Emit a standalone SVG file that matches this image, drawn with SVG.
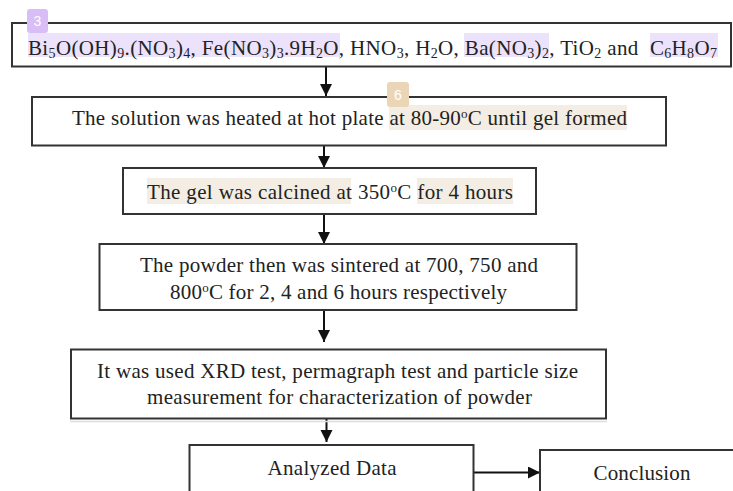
<svg xmlns="http://www.w3.org/2000/svg" width="733" height="491" viewBox="0 0 733 491">
<style>
.box{fill:none;stroke:#333;stroke-width:2}
.t{font-family:"Liberation Serif","Times New Roman",serif;font-size:21px;fill:#222}
.sub{font-size:14px}
.sup{font-size:13px}
.conn{stroke:#111;stroke-width:2;fill:none;marker-end:url(#ah)}
.hlp{fill:#ede2fb}
.hlb{fill:#f4ede3}
.badge{font-family:"Liberation Sans",Arial,sans-serif;font-size:14px;fill:#fff;text-anchor:middle}
</style>
<defs>
<marker id="ah" markerUnits="userSpaceOnUse" markerWidth="14" markerHeight="14" refX="12" refY="6" orient="auto">
<path d="M0,0 L12,6 L0,12 Z" fill="#111"/>
</marker>
</defs>
<rect width="733" height="491" fill="#fff"/>

<g id="annotations">
<rect class="hlp" x="28" y="33" width="312" height="24"/>
<rect class="hlp" x="464" y="33" width="85" height="24"/>
<rect class="hlp" x="650" y="33" width="68" height="24"/>
<rect class="hlb" x="389" y="105" width="238" height="25"/>
<rect class="hlb" x="147" y="178" width="204" height="26"/>
<rect class="hlb" x="417" y="178" width="96" height="26"/>
</g>

<g id="connectors">
<line class="conn" x1="326" y1="67" x2="326" y2="96"/>
<line class="conn" x1="324" y1="146" x2="324" y2="168"/>
<line class="conn" x1="324" y1="214" x2="324" y2="244"/>
<line class="conn" x1="324" y1="310" x2="324" y2="342"/>
<line class="conn" x1="326.5" y1="419" x2="326.5" y2="442"/>
<line class="conn" x1="473" y1="472.5" x2="540" y2="472.5"/>
</g>

<g id="n1">
<rect class="box" x="12" y="23" width="719" height="43.5"/>
<text class="t" x="28" y="55" textLength="689" lengthAdjust="spacing">Bi<tspan class="sub" baseline-shift="-3">5</tspan>O(OH)<tspan class="sub" baseline-shift="-3">9</tspan>.(NO<tspan class="sub" baseline-shift="-3">3</tspan>)<tspan class="sub" baseline-shift="-3">4</tspan>, Fe(NO<tspan class="sub" baseline-shift="-3">3</tspan>)<tspan class="sub" baseline-shift="-3">3</tspan>.9H<tspan class="sub" baseline-shift="-3">2</tspan>O, HNO<tspan class="sub" baseline-shift="-3">3</tspan>, H<tspan class="sub" baseline-shift="-3">2</tspan>O, Ba(NO<tspan class="sub" baseline-shift="-3">3</tspan>)<tspan class="sub" baseline-shift="-3">2</tspan>, TiO<tspan class="sub" baseline-shift="-3">2</tspan> and&#160; C<tspan class="sub" baseline-shift="-3">6</tspan>H<tspan class="sub" baseline-shift="-3">8</tspan>O<tspan class="sub" baseline-shift="-3">7</tspan></text>
</g>

<g id="n2">
<rect class="box" x="32" y="97" width="634" height="48.5"/>
<text class="t" x="72" y="125" textLength="555" lengthAdjust="spacing">The solution was heated at hot plate at 80-90<tspan class="sup" baseline-shift="7">o</tspan>C until gel formed</text>
</g>

<g id="n3">
<rect class="box" x="123" y="168" width="413" height="46"/>
<text class="t" x="147" y="199" textLength="366" lengthAdjust="spacing">The gel was calcined at 350<tspan class="sup" baseline-shift="7">o</tspan>C for 4 hours</text>
</g>

<g id="n4">
<rect class="box" x="99.5" y="244" width="477" height="66"/>
<text class="t" x="140" y="272" textLength="398" lengthAdjust="spacing">The powder then was sintered at 700, 750 and</text>
<text class="t" x="170" y="299" textLength="337" lengthAdjust="spacing">800<tspan class="sup" baseline-shift="7">o</tspan>C for 2, 4 and 6 hours respectively</text>
</g>

<g id="n5">
<line x1="70" y1="421.5" x2="607" y2="421.5" stroke="#ddd" stroke-width="1.5"/>
<rect class="box" x="71" y="349.5" width="535" height="69"/>
<text class="t" x="97" y="378" textLength="481" lengthAdjust="spacing">It was used XRD test, permagraph test and particle size</text>
<text class="t" x="147" y="403.5" textLength="385" lengthAdjust="spacing">measurement for characterization of powder</text>
</g>

<g id="n6">
<rect class="box" x="189.5" y="445" width="284" height="60"/>
<text class="t" x="267.5" y="475" textLength="129" lengthAdjust="spacing">Analyzed Data</text>
</g>

<g id="n7">
<rect class="box" x="540" y="450" width="210" height="60"/>
<text class="t" x="593.5" y="480" textLength="97" lengthAdjust="spacing">Conclusion</text>
</g>

<g id="badges">
<rect x="27" y="9" width="21" height="24" rx="3" fill="#d9bdf6"/>
<text class="badge" x="37.5" y="26">3</text>
<rect x="387" y="82" width="22" height="25" rx="3" fill="#ead6b6"/>
<text class="badge" x="398" y="99.5">6</text>
</g>
</svg>
